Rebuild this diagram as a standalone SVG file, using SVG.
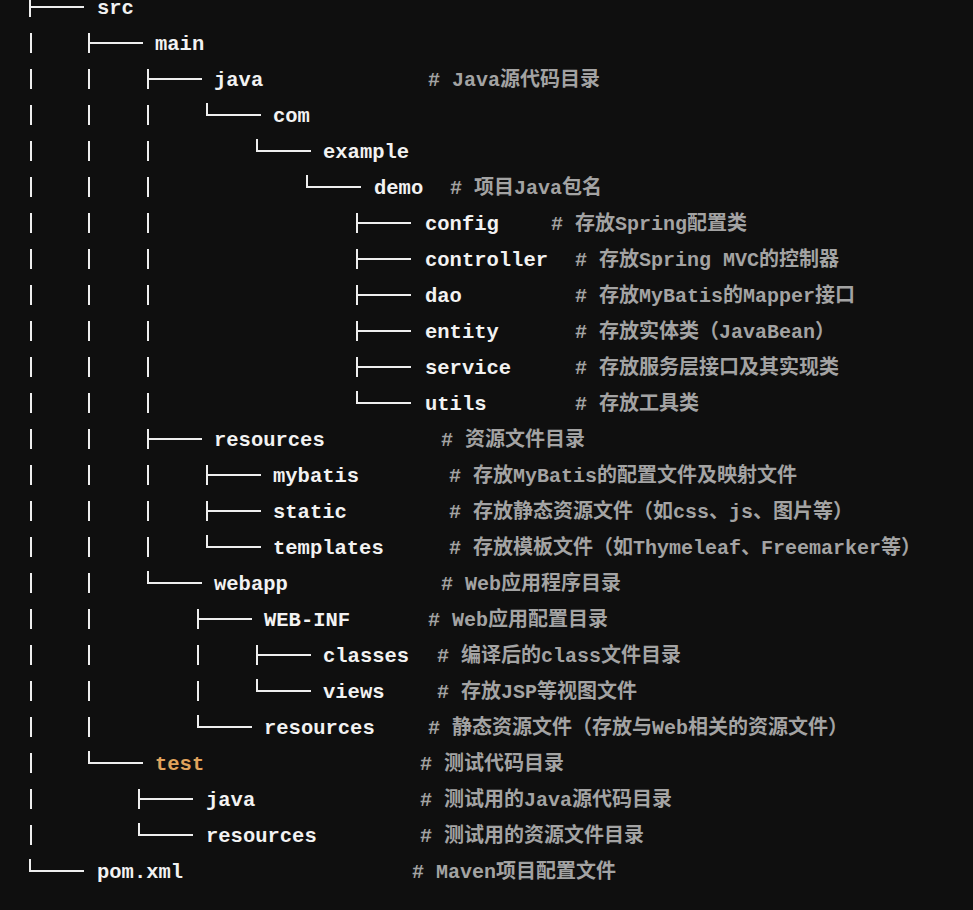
<svg xmlns="http://www.w3.org/2000/svg" width="973" height="910" viewBox="0 0 973 910">
<style>
.t{font-family:"Liberation Mono","Noto Sans CJK SC",monospace;font-size:20.5px;font-weight:bold;fill:#f2f2f2}
.c{font-family:"Liberation Mono","Noto Sans CJK SC",monospace;font-size:20px;font-weight:bold;fill:#a3a3a3}
.o{fill:#e0a35c}
.l{stroke:#eeeeee;stroke-width:2;fill:none}
</style>
<rect width="973" height="910" fill="#0f0f0f"/>
<g id="tree" class="l">
<path d="M30 -3v20M30 7h54"/>
<path d="M31 33v20M89 33v20M89 43h54"/>
<path d="M31 69v20M89 69v20M148 69v20M148 79h54"/>
<path d="M31 105v20M89 105v20M148 105v20M207 103v12h54"/>
<path d="M31 141v20M89 141v20M148 141v20M257 139v12h54"/>
<path d="M31 177v20M89 177v20M148 177v20M307 175v12h54"/>
<path d="M31 213v20M89 213v20M148 213v20M357 213v20M357 223h54"/>
<path d="M31 249v20M89 249v20M148 249v20M357 249v20M357 259h54"/>
<path d="M31 285v20M89 285v20M148 285v20M357 285v20M357 295h54"/>
<path d="M31 321v20M89 321v20M148 321v20M357 321v20M357 331h54"/>
<path d="M31 357v20M89 357v20M148 357v20M357 357v20M357 367h54"/>
<path d="M31 393v20M89 393v20M148 393v20M357 391v12h54"/>
<path d="M31 429v20M89 429v20M148 429v20M148 439h54"/>
<path d="M31 465v20M89 465v20M148 465v20M207 465v20M207 475h54"/>
<path d="M31 501v20M89 501v20M148 501v20M207 501v20M207 511h54"/>
<path d="M31 537v20M89 537v20M148 537v20M207 535v12h54"/>
<path d="M31 573v20M89 573v20M148 571v12h54"/>
<path d="M31 609v20M89 609v20M198 609v20M198 619h54"/>
<path d="M31 645v20M89 645v20M198 645v20M257 645v20M257 655h54"/>
<path d="M31 681v20M89 681v20M198 681v20M257 679v12h54"/>
<path d="M31 717v20M89 717v20M198 715v12h54"/>
<path d="M31 753v20M89 751v12h54"/>
<path d="M31 789v20M139 789v20M139 799h54"/>
<path d="M31 825v20M139 823v12h54"/>
<path d="M30 859v12h54"/>
</g>
<g id="names" class="t">
<text x="97" y="14">src</text>
<text x="155" y="50">main</text>
<text x="214" y="86">java</text>
<text x="273" y="122">com</text>
<text x="323" y="158">example</text>
<text x="374" y="194">demo</text>
<text x="425" y="230">config</text>
<text x="425" y="266">controller</text>
<text x="425" y="302">dao</text>
<text x="425" y="338">entity</text>
<text x="425" y="374">service</text>
<text x="425" y="410">utils</text>
<text x="214" y="446">resources</text>
<text x="273" y="482">mybatis</text>
<text x="273" y="518">static</text>
<text x="273" y="554">templates</text>
<text x="214" y="590">webapp</text>
<text x="264" y="626">WEB-INF</text>
<text x="323" y="662">classes</text>
<text x="323" y="698">views</text>
<text x="264" y="734">resources</text>
<text x="155" y="770" class="o">test</text>
<text x="206" y="806">java</text>
<text x="206" y="842">resources</text>
<text x="97" y="878">pom.xml</text>
</g>
<g id="comments" class="c">
<text x="428" y="86"># Java源代码目录</text>
<text x="450" y="194"># 项目Java包名</text>
<text x="551" y="230"># 存放Spring配置类</text>
<text x="575" y="266"># 存放Spring MVC的控制器</text>
<text x="575" y="302"># 存放MyBatis的Mapper接口</text>
<text x="575" y="338"># 存放实体类（JavaBean）</text>
<text x="575" y="374"># 存放服务层接口及其实现类</text>
<text x="575" y="410"># 存放工具类</text>
<text x="441" y="446"># 资源文件目录</text>
<text x="449" y="482"># 存放MyBatis的配置文件及映射文件</text>
<text x="449" y="518"># 存放静态资源文件（如css、js、图片等）</text>
<text x="449" y="554"># 存放模板文件（如Thymeleaf、Freemarker等）</text>
<text x="441" y="590"># Web应用程序目录</text>
<text x="428" y="626"># Web应用配置目录</text>
<text x="437" y="662"># 编译后的class文件目录</text>
<text x="437" y="698"># 存放JSP等视图文件</text>
<text x="428" y="734"># 静态资源文件（存放与Web相关的资源文件）</text>
<text x="420" y="770"># 测试代码目录</text>
<text x="420" y="806"># 测试用的Java源代码目录</text>
<text x="420" y="842"># 测试用的资源文件目录</text>
<text x="412" y="878"># Maven项目配置文件</text>
</g>
</svg>
